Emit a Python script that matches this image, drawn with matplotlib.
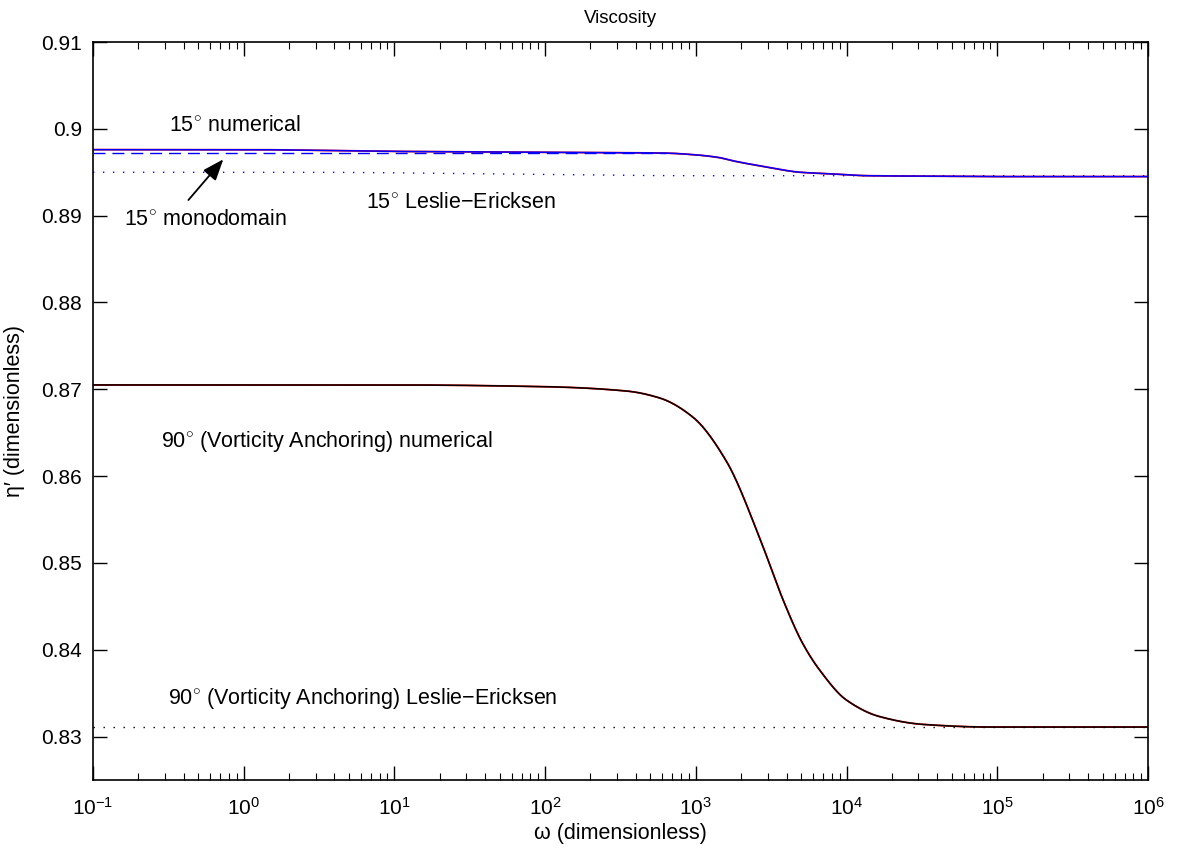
import numpy as np
import matplotlib
matplotlib.use('Agg')
import matplotlib.pyplot as plt
from matplotlib.ticker import FixedLocator, FixedFormatter, LogLocator, NullFormatter

plt.rcParams['font.family'] = ['Liberation Sans', 'DejaVu Sans']
plt.rcParams['mathtext.fontset'] = 'custom'
plt.rcParams['mathtext.rm'] = 'Liberation Sans'
plt.rcParams['mathtext.it'] = 'Liberation Sans:italic'

# data (log10 of omega, eta')
w15_log = [-1, 0, 1, 2, 2.5, 2.8, 3.0, 3.15, 3.25, 3.47, 3.69, 3.91, 4.14, 4.5, 5, 6]
eta15 = [0.8976, 0.8976, 0.8974, 0.8973, 0.89725, 0.8972, 0.8970, 0.8967, 0.8963,
         0.8956, 0.8950, 0.8948, 0.8946, 0.89455, 0.8945, 0.8945]

w15_mono_log = [-1.0, 2.8]
eta15_mono = [0.8972, 0.8972]

w15_le_log = [-1, 0.37, 1.7, 3.03, 6]
eta15_le = [0.8950, 0.8950, 0.8948, 0.8946, 0.8946]

w90_log = [-1, 1, 2, 2.54, 2.76, 2.98, 3.2, 3.43, 3.48, 3.58, 3.71, 3.82, 4.0,
           4.22, 4.51, 4.95, 5.5, 6]
eta90 = [0.8705, 0.8705, 0.8703, 0.8698, 0.8690, 0.8668, 0.8618, 0.8526, 0.8503,
         0.8457, 0.8407, 0.8377, 0.8342, 0.8323, 0.8314, 0.8311, 0.8311, 0.8311]

w90_le_log = [-1.0, 6.0]
eta90_le = [0.8311, 0.8311]

xtick_vals = [1e-1, 1e0, 1e1, 1e2, 1e3, 1e4, 1e5, 1e6]
xtick_labels = [r'$10^{-1}$', r'$10^{0}$', r'$10^{1}$', r'$10^{2}$', r'$10^{3}$',
                r'$10^{4}$', r'$10^{5}$', r'$10^{6}$']
ytick_vals = [0.83, 0.84, 0.85, 0.86, 0.87, 0.88, 0.89, 0.9, 0.91]
ytick_labels = ['0.83', '0.84', '0.85', '0.86', '0.87', '0.88', '0.89', '0.9', '0.91']


def pchip(xk, yk, xs):
    # monotone cubic (Fritsch-Carlson) through the read points
    xk = np.asarray(xk, float)
    yk = np.asarray(yk, float)
    h = np.diff(xk)
    d = np.diff(yk) / h
    m = np.zeros_like(yk)
    m[0], m[-1] = d[0], d[-1]
    for i in range(1, len(xk) - 1):
        if d[i - 1] * d[i] > 0:
            w1 = 2 * h[i] + h[i - 1]
            w2 = h[i] + 2 * h[i - 1]
            m[i] = (w1 + w2) / (w1 / d[i - 1] + w2 / d[i])
    idx = np.clip(np.searchsorted(xk, xs) - 1, 0, len(h) - 1)
    t = (xs - xk[idx]) / h[idx]
    h00 = 2 * t**3 - 3 * t**2 + 1
    h10 = t**3 - 2 * t**2 + t
    h01 = -2 * t**3 + 3 * t**2
    h11 = t**3 - t**2
    return (h00 * yk[idx] + h10 * h[idx] * m[idx] + h01 * yk[idx + 1]
            + h11 * h[idx] * m[idx + 1])


def smooth(xl, yl):
    xs = np.linspace(xl[0], xl[-1], 800)
    return 10.0 ** xs, pchip(xl, yl, xs)


fig = plt.figure(figsize=(11.78, 8.52), dpi=100)
ax = fig.add_axes([0.0789, 0.0845, 0.8956, 0.8662])

x, y = smooth(w15_log, eta15)
ax.plot(x, y, color='red', linewidth=1.3)
ax.plot(x, y, color='blue', linewidth=1.1)
ax.plot(10.0 ** np.array(w15_mono_log), eta15_mono, color='blue',
        linestyle=(0, (8.6, 5)), linewidth=1.0)
x, y = smooth(w15_le_log, eta15_le)
ax.plot(x, y, color='blue', linestyle=(0, (1, 6.2)), linewidth=1.0)

x, y = smooth(w90_log, eta90)
ax.plot(x, y, color='red', linewidth=1.3)
ax.plot(x, y, color='black', linewidth=1.1)
ax.plot(10.0 ** np.array(w90_le_log), eta90_le, color='black',
        linestyle=(0, (1, 6.2)), linewidth=1.0)

ax.set_xscale('log')
ax.set_xlim(1e-1, 1e6)
ax.set_ylim(0.825, 0.91)
ax.xaxis.set_major_locator(FixedLocator(xtick_vals))
ax.xaxis.set_major_formatter(FixedFormatter(xtick_labels))
ax.xaxis.set_minor_locator(LogLocator(base=10, subs=np.arange(2, 10), numticks=20))
ax.xaxis.set_minor_formatter(NullFormatter())
ax.yaxis.set_major_locator(FixedLocator(ytick_vals))
ax.yaxis.set_major_formatter(FixedFormatter(ytick_labels))

ax.tick_params(axis='both', which='major', direction='in', length=10, width=1,
               top=True, right=True, labelsize=15)
ax.tick_params(axis='both', which='minor', direction='in', length=5, width=0.8,
               top=True, right=True)
ax.tick_params(axis='x', pad=12)
ax.tick_params(axis='y', pad=8)
for s in ax.spines.values():
    s.set_linewidth(1.2)

ax.set_title('Viscosity', fontsize=13.5, pad=14)
ax.set_xlabel('ω (dimensionless)', fontsize=15.5)
ax.set_ylabel('η′ (dimensionless)', fontsize=15.5)
ax.xaxis.set_label_coords(0.5, -0.058)
ax.yaxis.set_label_coords(-0.064, 0.5)

fs = 15.5
ax.text(0.319, 0.90044, r'15$^{\circ}$ numerical', fontsize=fs, va='center')
ax.text(0.161, 0.8895, r'15$^{\circ}$ monodomain', fontsize=fs, va='center')
ax.text(6.49, 0.89149, r'15$^{\circ}$ Leslie−Ericksen', fontsize=fs, va='center')
ax.text(0.283, 0.86403, r'90$^{\circ}$ (Vorticity Anchoring) numerical', fontsize=fs, va='center')
ax.text(0.316, 0.83439, r'90$^{\circ}$ (Vorticity Anchoring) Leslie−Ericksen', fontsize=fs, va='center')

ax.annotate('', xy=(0.733, 0.89649), xytext=(0.43, 0.8918),
            arrowprops=dict(arrowstyle='-|>,head_length=1.3,head_width=0.5',
                            color='black', linewidth=1.3, shrinkA=0, shrinkB=0))

fig.savefig('out.png', dpi=100)
